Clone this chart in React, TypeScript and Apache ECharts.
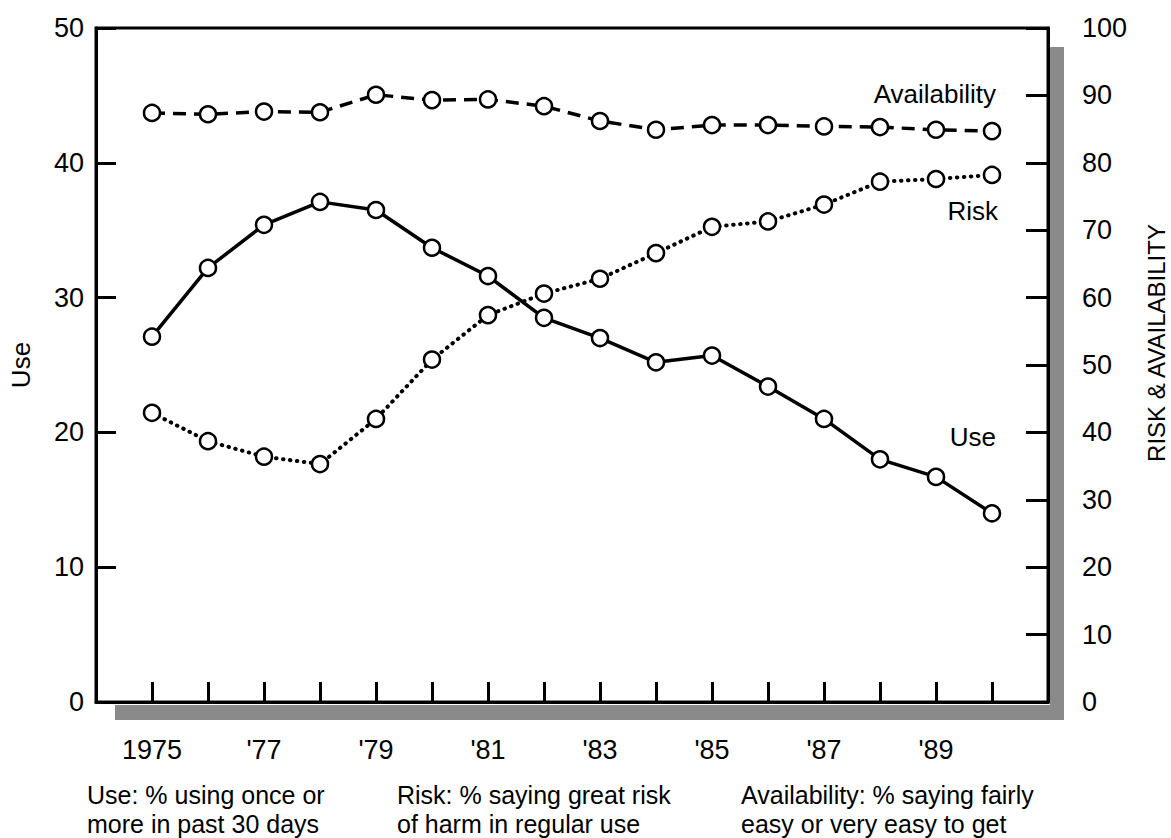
import React, { useEffect, useRef } from "react";
import * as echarts from "echarts";

const years = [1975, 1976, 1977, 1978, 1979, 1980, 1981, 1982, 1983, 1984, 1985, 1986, 1987, 1988, 1989, 1990];
const useValues = [27.1, 32.2, 35.4, 37.1, 36.5, 33.7, 31.6, 28.5, 27.0, 25.2, 25.7, 23.4, 21.0, 18.0, 16.7, 14.0];
const riskValues = [42.9, 38.7, 36.4, 35.3, 42.0, 50.8, 57.4, 60.6, 62.8, 66.6, 70.5, 71.3, 73.8, 77.2, 77.6, 78.2];
const availabilityValues = [87.4, 87.2, 87.6, 87.5, 90.1, 89.3, 89.4, 88.4, 86.2, 84.9, 85.6, 85.6, 85.4, 85.3, 84.9, 84.7];
const xTickLabels: Record<number, string> = { 1975: "1975", 1977: "'77", 1979: "'79", 1981: "'81", 1983: "'83", 1985: "'85", 1987: "'87", 1989: "'89" };
const footnotes = [
  ["Use: % using once or", "more in past 30 days"],
  ["Risk: % saying great risk", "of harm in regular use"],
  ["Availability: % saying fairly", "easy or very easy to get"],
];

const FONT = "'Liberation Sans', Arial, Helvetica, sans-serif";

export default function App() {
  const ref = useRef<HTMLDivElement>(null);
  useEffect(() => {
    if (!ref.current) return;
    const chart = echarts.init(ref.current, undefined, { renderer: "svg" });
    const pair = (vals: number[]) => years.map((y, i) => [y, vals[i]]);
    const marker = {
      symbol: "circle",
      symbolSize: 16,
      itemStyle: { color: "#fff", borderColor: "#000", borderWidth: 2.5 },
    };
    const footX = [87, 397, 741];
    const footGraphics: any[] = [];
    footnotes.forEach((lines, i) => {
      lines.forEach((line, j) => {
        footGraphics.push({
          type: "text",
          x: footX[i],
          y: 795 + j * 29,
          style: { text: line, font: `25px ${FONT}`, fill: "#000", verticalAlign: "middle" },
        });
      });
    });
    chart.setOption({
      animation: false,
      backgroundColor: "#fff",
      textStyle: { fontFamily: FONT, color: "#000" },
      grid: {
        left: 94,
        right: 1171 - 1048,
        top: 28,
        bottom: 838 - 702,
        show: true,
        borderColor: "#000",
        borderWidth: 3,
        backgroundColor: "transparent",
      },
      xAxis: {
        type: "value",
        min: 1974,
        max: 1991,
        interval: 1,
        splitLine: { show: false },
        axisLine: { lineStyle: { color: "#000", width: 3 } },
        axisTick: { inside: true, length: 20, lineStyle: { color: "#000", width: 3 } },
        axisLabel: {
          margin: 34,
          fontSize: 27,
          fontFamily: FONT,
          color: "#000",
          showMinLabel: false,
          showMaxLabel: false,
          formatter: (v: number) => xTickLabels[v] ?? "",
        },
      },
      yAxis: [
        {
          type: "value",
          min: 0,
          max: 50,
          interval: 10,
          name: "Use",
          nameLocation: "middle",
          nameGap: 62,
          nameRotate: 90,
          nameTextStyle: { fontSize: 26, fontFamily: FONT, color: "#000" },
          splitLine: { show: false },
          axisLine: { lineStyle: { color: "#000", width: 3 } },
          axisTick: { inside: true, length: 20, lineStyle: { color: "#000", width: 3 } },
          axisLabel: { margin: 12, fontSize: 27, fontFamily: FONT, color: "#000" },
        },
        {
          type: "value",
          min: 0,
          max: 100,
          interval: 10,
          position: "right",
          splitLine: { show: false },
          axisLine: { lineStyle: { color: "#000", width: 3 } },
          axisTick: { inside: true, length: 22, lineStyle: { color: "#000", width: 3 } },
          axisLabel: { margin: 34, fontSize: 27, fontFamily: FONT, color: "#000" },
        },
      ],
      series: [
        {
          name: "Availability",
          type: "line",
          yAxisIndex: 1,
          data: pair(availabilityValues),
          ...marker,
          lineStyle: { color: "#000", width: 3.5, type: [13, 8] },
          z: 3,
        },
        {
          name: "Risk",
          type: "line",
          yAxisIndex: 1,
          data: pair(riskValues),
          ...marker,
          lineStyle: { color: "#000", width: 4, type: [0.5, 6.5], cap: "round" },
          z: 3,
        },
        {
          name: "Use",
          type: "line",
          yAxisIndex: 0,
          data: pair(useValues),
          ...marker,
          lineStyle: { color: "#000", width: 3.5 },
          z: 4,
        },
      ],
      graphic: [
        { type: "rect", silent: true, z: -1, shape: { x: 115, y: 705, width: 949, height: 15 }, style: { fill: "#8a8a8a" } },
        { type: "rect", silent: true, z: -1, shape: { x: 1050, y: 47, width: 14, height: 673 }, style: { fill: "#8a8a8a" } },
        { type: "text", x: 996, y: 94, style: { text: "Availability", font: `26px ${FONT}`, fill: "#000", align: "right", verticalAlign: "middle" } },
        { type: "text", x: 998, y: 211, style: { text: "Risk", font: `26px ${FONT}`, fill: "#000", align: "right", verticalAlign: "middle" } },
        { type: "text", x: 996, y: 437, style: { text: "Use", font: `26px ${FONT}`, fill: "#000", align: "right", verticalAlign: "middle" } },
        { type: "text", x: 1156, y: 343, rotation: Math.PI / 2, style: { text: "RISK & AVAILABILITY", font: `24px ${FONT}`, fill: "#000", align: "center", verticalAlign: "middle" } },
        ...footGraphics,
      ],
    });
    return () => chart.dispose();
  }, []);
  return <div ref={ref} style={{ position: "absolute", left: 0, top: 0, width: 1171, height: 838 }} />;
}
